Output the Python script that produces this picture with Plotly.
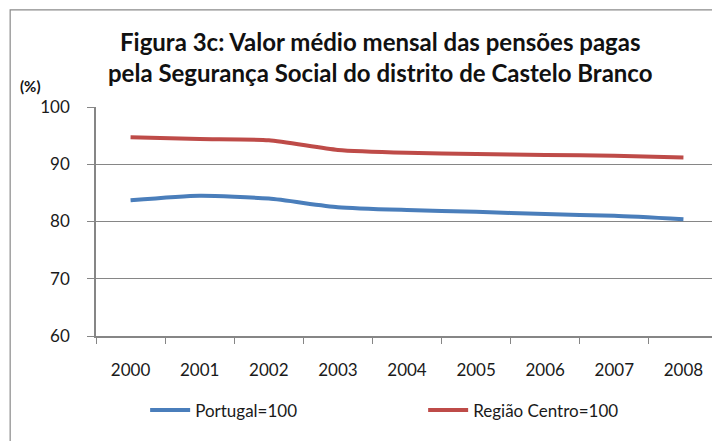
import plotly.graph_objects as go

years = ["2000", "2001", "2002", "2003", "2004", "2005", "2006", "2007", "2008"]
portugal = [83.7, 84.5, 84.0, 82.5, 82.0, 81.7, 81.3, 81.0, 80.4]
centro = [94.7, 94.4, 94.2, 92.5, 92.0, 91.8, 91.6, 91.5, 91.2]
y_ticks = [60, 70, 80, 90, 100]

FONT = "Lato"
fig = go.Figure()
fig.add_trace(go.Scatter(x=years, y=portugal, name="Portugal=100", mode="lines",
                         line=dict(color="#4A7EBB", width=4, shape="spline", smoothing=0.6)))
fig.add_trace(go.Scatter(x=years, y=centro, name="Região Centro=100", mode="lines",
                         line=dict(color="#BE4B48", width=4, shape="spline", smoothing=0.6)))

fig.update_layout(
    width=720, height=441,
    margin=dict(l=88, r=10, t=99, b=113),
    paper_bgcolor="white", plot_bgcolor="white",
    font=dict(family=FONT, color="#1a1a1a"),
    title=dict(text="<b>Figura 3c: Valor médio mensal das pensões pagas<br>pela Segurança Social do distrito de Castelo Branco</b>",
               x=0.517, xanchor="center", y=0.903, yanchor="top",
               font=dict(family=FONT, size=24, color="#111")),
    showlegend=True,
    legend=dict(orientation="h", x=0.079, xanchor="left", y=-0.325, yanchor="middle",
                font=dict(family=FONT, size=17, color="#1a1a1a"),
                entrywidth=223, entrywidthmode="pixels", itemwidth=40, bgcolor="rgba(0,0,0,0)"),
    xaxis=dict(type="category", tickson="boundaries", ticks="outside", ticklen=6,
               tickcolor="#868686", showline=True, linecolor="#868686", linewidth=1.5,
               showgrid=False, tickfont=dict(family=FONT, size=17, color="#1a1a1a"),
               ticklabelstandoff=18, range=[-0.5, 8.5]),
    yaxis=dict(range=[60, 100], tickvals=y_ticks, ticks="outside", ticklen=7,
               tickcolor="#868686", showline=True, linecolor="#868686", linewidth=1.5,
               showgrid=True, gridcolor="#868686", gridwidth=1.2, zeroline=False,
               tickfont=dict(family=FONT, size=17, color="#1a1a1a"), ticklabelstandoff=14),
    shapes=[dict(type="rect", xref="paper", yref="paper", x0=-0.138, x1=1.1, y0=-0.7, y1=1.424,
                 line=dict(color="#8a8a8a", width=1.2), fillcolor="rgba(0,0,0,0)", layer="below")],
    annotations=[dict(text="<b>(%)</b>", xref="paper", yref="paper", x=-0.125, xanchor="left",
                      y=1.092, yanchor="middle", showarrow=False,
                      font=dict(family=FONT, size=15, color="#111"))],
)

fig.write_html("out.html")
